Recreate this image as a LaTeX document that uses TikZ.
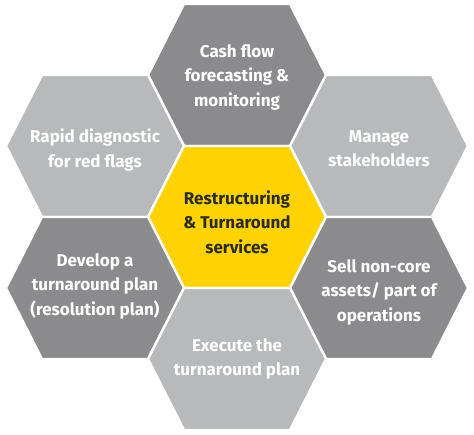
\documentclass[tikz,border=0pt]{standalone}
\usepackage{fontspec}
\setmainfont{Fira Sans}
\definecolor{hexdark}{HTML}{8B8B8D}
\definecolor{hexlight}{HTML}{B8B9BB}
\definecolor{hexyellow}{HTML}{FFD200}
\definecolor{txtdark}{HTML}{2B2B2B}
\begin{document}
\begin{tikzpicture}[x=1pt,y=-1pt,
  hexpath/.style={draw=white,line width=2.4pt,line join=miter},
  hexlabel/.style={align=center,font=\bfseries\fontsize{17}{24.5}\selectfont,text=white,inner sep=0pt},
  centerlabel/.style={hexlabel,text=txtdark}]
\useasboundingbox (0,0) rectangle (474,435);
\fill[white] (0,0) rectangle (474,435);
% hexagons: R=89, e=53, h=71
\foreach \cx/\cy/\col in {237/75/hexdark, 95/146/hexlight, 379/146/hexlight, 237/217/hexyellow, 95/288/hexdark, 379/288/hexdark, 237/359/hexlight}{
  \path[hexpath,fill=\col] (\cx-89,\cy) -- (\cx-53,\cy-71) -- (\cx+53,\cy-71) -- (\cx+89,\cy) -- (\cx+53,\cy+71) -- (\cx-53,\cy+71) -- cycle;
}
\node[hexlabel] (cash) at (237,77) {Cash flow\\forecasting \&\\monitoring};
\node[hexlabel] (rapid) at (95,150) {Rapid diagnostic\\for red flags};
\node[hexlabel] (manage) at (379,149) {Manage\\stakeholders};
\node[centerlabel] (core) at (237,222) {Restructuring\\\& Turnaround\\services};
\node[hexlabel] (develop) at (95,286) {Develop a\\turnaround plan\\(resolution plan)};
\node[hexlabel] (sell) at (379,292) {Sell non-core\\assets/ part of\\operations};
\node[hexlabel] (execute) at (237,359) {Execute the\\turnaround plan};
\end{tikzpicture}
\end{document}
